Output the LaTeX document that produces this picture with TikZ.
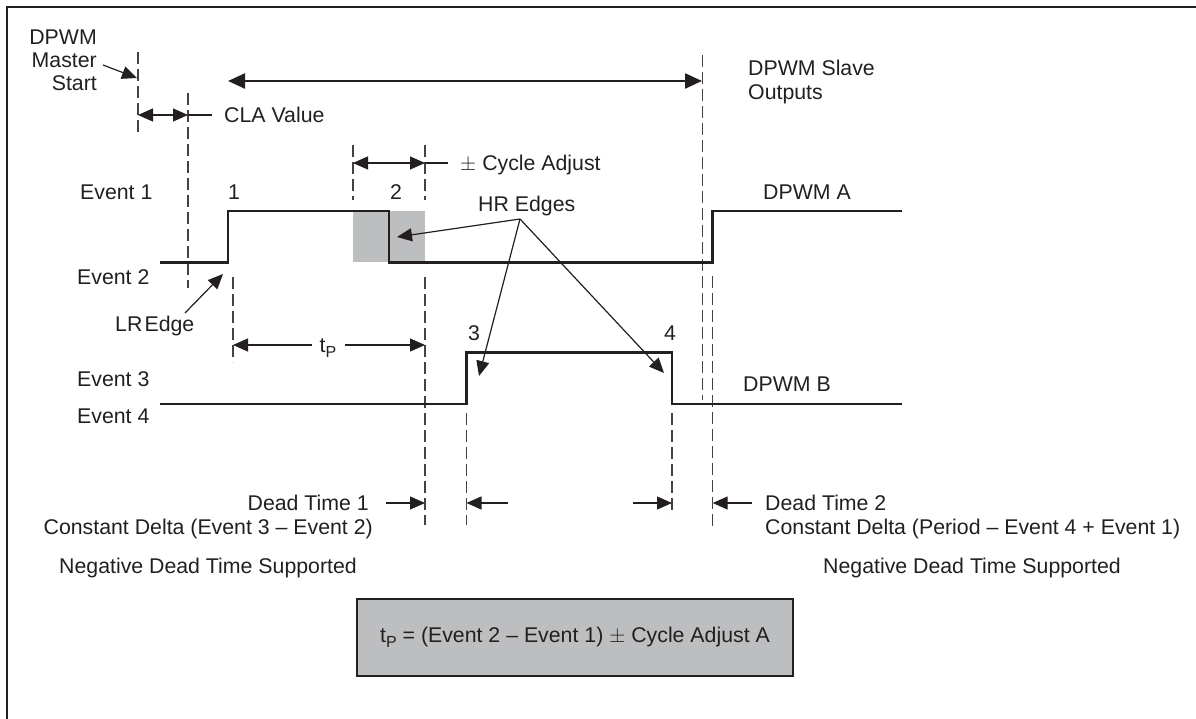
\documentclass[tikz,border=0pt]{standalone}
\usepackage{fontspec}
\setmainfont{Liberation Sans}
\usetikzlibrary{arrows.meta}
\definecolor{ink}{HTML}{231F20}
\definecolor{hrgray}{HTML}{BDBEC0}
\newcommand{\subP}{\raisebox{-0.45ex}{\fontsize{16}{16}\selectfont P}}
\begin{document}
\begin{tikzpicture}[x=1pt,y=-1pt,
  lbl/.style={font=\fontsize{21.3}{25}\selectfont, text=ink, inner sep=0pt},
  wave/.style={draw=ink, line width=2.8pt, line join=miter},
  dashln/.style={draw=ink!85, line width=1.1pt, dash pattern=on 12pt off 5pt},
  tipA/.tip={Triangle[length=15pt,width=13pt]},
  thinarr/.style={draw=ink, line width=1.2pt, -tipA},
  dblarr/.style={draw=ink, line width=1.2pt, tipA-tipA},
  plainln/.style={draw=ink, line width=1.2pt}]
\useasboundingbox (0,0) rectangle (1196,719);
% frame (top and left edges)
\draw[draw=ink, line width=2.4pt] (7,719) -- (7,7) -- (1196,7);

% gray HR region
\fill[fill=hrgray] (352.7,211) rectangle (425,262.5);

% dashed guide lines
\draw[dashln] (138,52) -- (138,135);
\draw[dashln] (188,93) -- (188,288);
\draw[dashln] (233,277) -- (233,362);
\draw[dashln] (353,145) -- (353,200);
\draw[dashln] (425,145) -- (425,200);
\draw[dashln] (425,277) -- (425,525);
\draw[dashln] (466.5,413) -- (466.5,525);
\draw[dashln] (672,413) -- (672,515);
\draw[dashln] (702.7,55) -- (702.7,400);
\draw[dashln] (712.7,276) -- (712.7,528);

% waveforms
\draw[wave] (160,262.5) -- (228,262.5) -- (228,211) -- (389,211) -- (389,262.5) -- (712.7,262.5) -- (712.7,211) -- (902,211);
\draw[wave] (160,404) -- (466.5,404) -- (466.5,352.3) -- (672,352.3) -- (672,404) -- (902,404);

% texts
\node[lbl, anchor=base east] (dpwm) at (97,44.5) {DPWM};
\node[lbl, anchor=base east] (master) at (97,67.5) {Master};
\node[lbl, anchor=base east] (start) at (97,90.5) {Start};
\node[lbl, anchor=base west] (cla) at (224,122.5) {CLA Value};
\node[lbl, anchor=base west] (slave) at (748,75.5) {DPWM Slave};
\node[lbl, anchor=base west] (outputs) at (748,99.5) {Outputs};
\node[lbl, anchor=base west] (cyc) at (460,170.5) {$\pm$ Cycle Adjust};
\node[lbl, anchor=base west] (ev1) at (80,199.5) {Event 1};
\node[lbl, anchor=base] (n1) at (234,199.5) {1};
\node[lbl, anchor=base] (n2) at (396,199.5) {2};
\node[lbl, anchor=base west] (hr) at (478,211.5) {HR Edges};
\node[lbl, anchor=base west] (dpa) at (763,199.5) {DPWM A};
\node[lbl, anchor=base west] (ev2) at (77,284.5) {Event 2};
\node[lbl, anchor=base west] (lr) at (115,331.5) {LR\hspace{0.1em}Edge};
\node[lbl, anchor=base] (tp) at (328,352) {t\subP};
\node[lbl, anchor=base] (n3) at (474,340.5) {3};
\node[lbl, anchor=base] (n4) at (670,340.5) {4};
\node[lbl, anchor=base west] (ev3) at (77,386.5) {Event 3};
\node[lbl, anchor=base west] (dpb) at (743,391.5) {DPWM B};
\node[lbl, anchor=base west] (ev4) at (77,423) {Event 4};
\node[lbl, anchor=base east] (dt1) at (369,510.5) {Dead Time 1};
\node[lbl, anchor=base east] (cd1) at (373,534.5) {Constant Delta (Event 3 – Event 2)};
\node[lbl, anchor=base] (neg1) at (208,573.5) {Negative Dead Time Supported};
\node[lbl, anchor=base west] (dt2) at (765,510.5) {Dead Time 2};
\node[lbl, anchor=base west] (cd2) at (765,534.5) {Constant Delta (Period – Event 4 + Event 1)};
\node[lbl, anchor=base] (neg2) at (972,573.5) {Negative Dead Time Supported};
\node[lbl, draw=ink, line width=1.4pt, fill=hrgray, minimum width=436pt, minimum height=77pt] (eq) at (575,637.5) {t\subP{} = (Event 2 – Event 1) $\pm$ Cycle Adjust A};

% arrow coordinates
\coordinate (mS) at (103,65);
\coordinate (mE) at (137,78);
\coordinate (claL) at (138,115);
\coordinate (claR) at (188,115);
\coordinate (claT) at (212,115);
\coordinate (bigL) at (228,81);
\coordinate (bigR) at (702,81);
\coordinate (caL) at (353,163);
\coordinate (caR) at (425,163);
\coordinate (caT) at (448,163);
\coordinate (lrS) at (185,313);
\coordinate (lrE) at (223,274);
\coordinate (hrS) at (520,219);
\coordinate (hr1) at (397,237);
\coordinate (hr2) at (479,376);
\coordinate (hr3) at (664,373);
\coordinate (tpL) at (233,345);
\coordinate (tpLs) at (312,345);
\coordinate (tpRs) at (345,345);
\coordinate (tpR) at (425,345);
\coordinate (d1a) at (386,503);
\coordinate (d1b) at (425,503);
\coordinate (d1c) at (508,503);
\coordinate (d1d) at (466.5,503);
\coordinate (d2a) at (633,503);
\coordinate (d2b) at (672,503);
\coordinate (d2c) at (752,503);
\coordinate (d2d) at (712.7,503);

% arrows
\draw[thinarr] (mS) -- (mE);
\draw[dblarr] (claL) -- (claR);
\draw[plainln] (claR) -- (claT);
\draw[draw=ink, line width=2.4pt, {Triangle[length=17pt,width=15pt]}-{Triangle[length=17pt,width=15pt]}] (bigL) -- (bigR);
\draw[dblarr] (caL) -- (caR);
\draw[plainln] (caR) -- (caT);
\draw[thinarr] (lrS) -- (lrE);
\draw[thinarr] (hrS) -- (hr1);
\draw[thinarr] (hrS) -- (hr2);
\draw[thinarr] (hrS) -- (hr3);
\draw[thinarr] (tpLs) -- (tpL);
\draw[thinarr] (tpRs) -- (tpR);
\draw[thinarr] (d1a) -- (d1b);
\draw[thinarr] (d1c) -- (d1d);
\draw[thinarr] (d2a) -- (d2b);
\draw[thinarr] (d2c) -- (d2d);
\end{tikzpicture}
\end{document}
